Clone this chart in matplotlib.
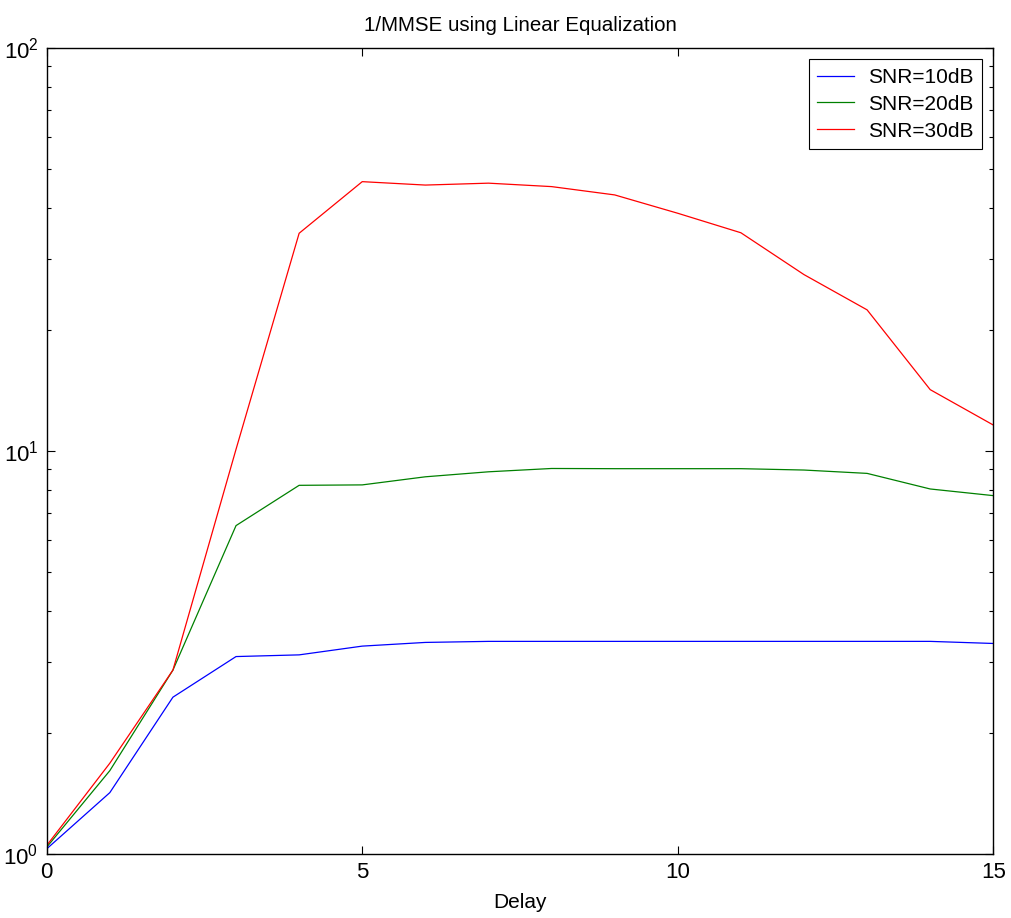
import matplotlib
matplotlib.use("Agg")
import matplotlib.pyplot as plt
import numpy as np

plt.rcParams['font.family'] = ['Liberation Sans', 'DejaVu Sans']
plt.rcParams['mathtext.default'] = 'regular'

# values
delay = list(range(16))
snr10 = [1.03, 1.42, 2.45, 3.09, 3.12, 3.28, 3.35, 3.37, 3.37, 3.37, 3.37, 3.37, 3.37, 3.37, 3.37, 3.33]
snr20 = [1.04, 1.61, 2.86, 6.53, 8.22, 8.24, 8.63, 8.88, 9.05, 9.04, 9.04, 9.04, 8.97, 8.80, 8.05, 7.75]
snr30 = [1.05, 1.68, 2.86, 10.1, 34.7, 46.6, 45.7, 46.2, 45.3, 43.2, 38.9, 34.8, 27.4, 22.4, 14.2, 11.6]
labels = ['SNR=10dB', 'SNR=20dB', 'SNR=30dB']
colors = ['#0000ff', '#008000', '#ff0000']

fig = plt.figure(figsize=(10.11, 9.18), dpi=100)
ax = fig.add_axes([0.0462, 0.0697, 0.9363, 0.878])

for ys, lab, c in zip([snr10, snr20, snr30], labels, colors):
    ax.plot(delay, ys, color=c, lw=0.9, label=lab)

ax.set_yscale('log')
ax.set_xlim(0, 15)
ax.set_ylim(1, 100)
ax.set_xticks([0, 5, 10, 15])
ax.tick_params(which='both', direction='in', top=True, right=True, labelsize=16, pad=6)
ax.tick_params(which='major', length=6, width=0.8)
ax.tick_params(which='minor', length=3, width=0.8)
for s in ax.spines.values():
    s.set_linewidth(1.0)

ax.set_title('1/MMSE using Linear Equalization', fontsize=14.8, pad=12)
ax.set_xlabel('Delay', fontsize=15, labelpad=7)

leg = ax.legend(loc='upper right', fontsize=15, fancybox=False, framealpha=1,
                edgecolor='black', borderaxespad=0.55, handlelength=1.8,
                labelspacing=0.38, borderpad=0.4, handletextpad=0.65)
leg.get_frame().set_linewidth(0.8)

fig.savefig('out.png', dpi=100)
